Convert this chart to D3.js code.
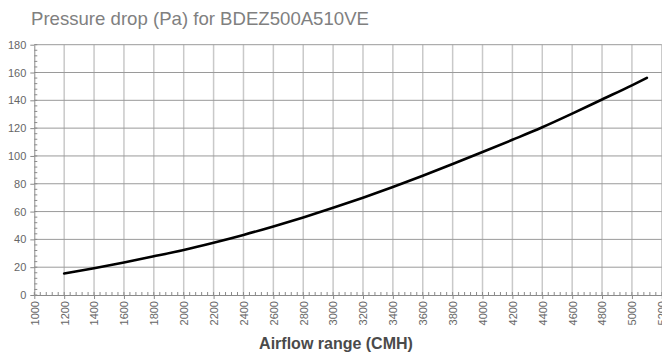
<!DOCTYPE html>
<html>
<head>
<meta charset="utf-8">
<script src="https://cdn.jsdelivr.net/npm/d3@7"></script>
<style>
  html, body { margin: 0; padding: 0; background: #fff; }
  svg { display: block; font-family: "Liberation Sans", Arial, Helvetica, sans-serif; }
</style>
</head>
<body>
<svg id="chart" width="662" height="354"></svg>
<script>
// Airflow (CMH) and corresponding pressure drop (Pa)
const airflow = [1200, 1400, 1600, 1800, 2000, 2200, 2400, 2600, 2800, 3000,
                 3200, 3400, 3600, 3800, 4000, 4200, 4400, 4600, 4800, 5000, 5100];
const pressure = [15.5, 19.3, 23.4, 27.8, 32.4, 37.6, 43.2, 49.3, 55.8, 62.7,
                  70.0, 77.7, 85.8, 94.2, 102.8, 111.6, 120.6, 130.4, 140.6, 150.8, 156.2];

const xTicks = d3.range(1000, 5201, 200);
const xMinor = d3.range(1000, 5201, 40);
const yTicks = d3.range(0, 181, 20);
const yMinor = d3.range(0, 181, 4);

const titleText = "Pressure drop (Pa) for BDEZ500A510VE";
const xTitle = "Airflow range (CMH)";

const svg = d3.select("#chart");
const m = { left: 34.3, right: 661.8, top: 44.7, bottom: 295 };

const x = d3.scaleLinear().domain([1000, 5200]).range([m.left, m.right]);
const y = d3.scaleLinear().domain([0, 180]).range([m.bottom, m.top]);

// Title
svg.append("text")
  .attr("x", 31).attr("y", 25)
  .attr("fill", "#808080")
  .attr("font-size", 18.6)
  .text(titleText);

// Vertical grid lines
svg.append("g")
  .selectAll("line").data(xTicks.slice(1)).join("line")
  .attr("x1", d => x(d)).attr("x2", d => x(d))
  .attr("y1", y(180)).attr("y2", y(0))
  .attr("stroke", "#c9c9c9").attr("stroke-width", 1.5);

// Horizontal grid lines
svg.append("g")
  .selectAll("line").data(yTicks.slice(1)).join("line")
  .attr("x1", x(1000)).attr("x2", x(5200))
  .attr("y1", d => y(d)).attr("y2", d => y(d))
  .attr("stroke", "#9a9a9a").attr("stroke-width", 1);

// Minor ticks (inside the plot)
svg.append("g")
  .selectAll("line").data(xMinor).join("line")
  .attr("x1", d => x(d)).attr("x2", d => x(d))
  .attr("y1", y(0)).attr("y2", y(0) - 3)
  .attr("stroke", "#8a8a8a").attr("stroke-width", 1);
svg.append("g")
  .selectAll("line").data(yMinor).join("line")
  .attr("x1", x(1000)).attr("x2", x(1000) + 3)
  .attr("y1", d => y(d)).attr("y2", d => y(d))
  .attr("stroke", "#8a8a8a").attr("stroke-width", 1);

// Axes
const xAxis = svg.append("g")
  .attr("transform", `translate(0,${m.bottom})`)
  .call(d3.axisBottom(x).tickValues(xTicks).tickSize(4).tickSizeOuter(0).tickFormat(d3.format("d")));
xAxis.selectAll("text")
  .attr("transform", "rotate(-90)")
  .attr("text-anchor", "end")
  .attr("x", -6).attr("y", 0).attr("dy", "0.35em")
  .attr("fill", "#666").attr("font-size", 11);

const yAxis = svg.append("g")
  .attr("transform", `translate(${m.left},0)`)
  .call(d3.axisLeft(y).tickValues(yTicks).tickSize(4).tickSizeOuter(0));
yAxis.selectAll("text").attr("fill", "#666").attr("font-size", 11).attr("x", -8);

svg.selectAll(".domain").attr("stroke", "#8a8a8a");
svg.selectAll(".tick line").attr("stroke", "#8a8a8a");
svg.selectAll(".tick text").attr("font-family", "'Liberation Sans', Arial, sans-serif");

// Pressure drop curve
const pts = airflow.map((a, i) => [a, pressure[i]]);
svg.append("path")
  .datum(pts)
  .attr("fill", "none")
  .attr("stroke", "#000")
  .attr("stroke-width", 2.6)
  .attr("stroke-linecap", "round")
  .attr("d", d3.line().x(d => x(d[0])).y(d => y(d[1])).curve(d3.curveMonotoneX));

// X axis title
svg.append("text")
  .attr("x", 336).attr("y", 349)
  .attr("text-anchor", "middle")
  .attr("fill", "#4a4a4a")
  .attr("font-size", 16)
  .attr("font-weight", "bold")
  .text(xTitle);
</script>
</body>
</html>
